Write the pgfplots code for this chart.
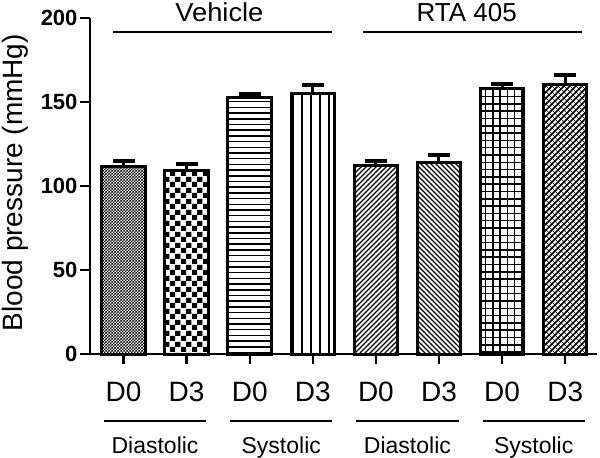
\documentclass[border=0pt]{standalone}
\usepackage{fontspec}
\setmainfont{Liberation Sans}
\usepackage{pgfplots}
\pgfplotsset{compat=1.18}
\usetikzlibrary{patterns}

\pgfdeclarepatternformonly{finechecker}{\pgfqpoint{0pt}{0pt}}{\pgfqpoint{3.4pt}{3.4pt}}{\pgfqpoint{3.4pt}{3.4pt}}{%
\pgfpathrectangle{\pgfqpoint{0pt}{0pt}}{\pgfqpoint{1.7pt}{1.7pt}}%
\pgfpathrectangle{\pgfqpoint{1.7pt}{1.7pt}}{\pgfqpoint{1.7pt}{1.7pt}}%
\pgfusepath{fill}}
\pgfdeclarepatternformonly{bigchecker}{\pgfqpoint{0pt}{0pt}}{\pgfqpoint{10.6pt}{10.6pt}}{\pgfqpoint{10.6pt}{10.6pt}}{%
\pgfpathrectangle{\pgfqpoint{0pt}{0pt}}{\pgfqpoint{5.3pt}{5.3pt}}%
\pgfpathrectangle{\pgfqpoint{5.3pt}{5.3pt}}{\pgfqpoint{5.3pt}{5.3pt}}%
\pgfusepath{fill}}
\pgfdeclarepatternformonly{hlines}{\pgfqpoint{-1pt}{-1pt}}{\pgfqpoint{6.7pt}{6.7pt}}{\pgfqpoint{5.7pt}{5.7pt}}{%
\pgfsetlinewidth{1.5pt}\pgfpathmoveto{\pgfqpoint{-1pt}{2.85pt}}\pgfpathlineto{\pgfqpoint{6.7pt}{2.85pt}}\pgfusepath{stroke}}
\pgfdeclarepatternformonly{vlines}{\pgfqpoint{-1pt}{-1pt}}{\pgfqpoint{10pt}{10pt}}{\pgfqpoint{9pt}{9pt}}{%
\pgfsetlinewidth{2pt}\pgfpathmoveto{\pgfqpoint{4.5pt}{-1pt}}\pgfpathlineto{\pgfqpoint{4.5pt}{10pt}}\pgfusepath{stroke}}
\pgfdeclarepatternformonly{nelines}{\pgfqpoint{-1pt}{-1pt}}{\pgfqpoint{6pt}{6pt}}{\pgfqpoint{5pt}{5pt}}{%
\pgfsetlinewidth{1.1pt}\pgfpathmoveto{\pgfqpoint{0pt}{0pt}}\pgfpathlineto{\pgfqpoint{5.1pt}{5.1pt}}\pgfusepath{stroke}}
\pgfdeclarepatternformonly{nwlines}{\pgfqpoint{-1pt}{-1pt}}{\pgfqpoint{6pt}{6pt}}{\pgfqpoint{5pt}{5pt}}{%
\pgfsetlinewidth{1.1pt}\pgfpathmoveto{\pgfqpoint{0pt}{5pt}}\pgfpathlineto{\pgfqpoint{5.1pt}{-0.1pt}}\pgfusepath{stroke}}
\pgfdeclarepatternformonly{biggrid}{\pgfqpoint{-1pt}{-1pt}}{\pgfqpoint{8.3pt}{8.3pt}}{\pgfqpoint{7.3pt}{7.3pt}}{%
\pgfsetlinewidth{1.5pt}\pgfpathmoveto{\pgfqpoint{3.65pt}{-1pt}}\pgfpathlineto{\pgfqpoint{3.65pt}{8.3pt}}%
\pgfpathmoveto{\pgfqpoint{-1pt}{3.65pt}}\pgfpathlineto{\pgfqpoint{8.3pt}{3.65pt}}\pgfusepath{stroke}}
\pgfdeclarepatternformonly{mixhatch}{\pgfqpoint{-1pt}{-1pt}}{\pgfqpoint{7pt}{7pt}}{\pgfqpoint{6pt}{6pt}}{%
\pgfsetlinewidth{1.6pt}\pgfpathmoveto{\pgfqpoint{0pt}{0pt}}\pgfpathlineto{\pgfqpoint{6.1pt}{6.1pt}}\pgfusepath{stroke}%
\pgfsetlinewidth{0.5pt}\pgfpathmoveto{\pgfqpoint{0pt}{6pt}}\pgfpathlineto{\pgfqpoint{6.1pt}{-0.1pt}}\pgfusepath{stroke}}

\begin{document}
\begin{tikzpicture}
\useasboundingbox (-90pt,-104pt) rectangle (510pt,354pt);
\begin{axis}[
  scale only axis,
  width=507pt, height=336pt,
  xmin=-0.531, xmax=7.504,
  ymin=0, ymax=200,
  axis lines*=left,
  axis line style={line width=2.8pt},
  ybar, bar width=0.69, bar shift=0pt,
  xtick={0,...,7},
  xticklabels={D0,D3,D0,D3,D0,D3,D0,D3},
  ytick={0,50,100,150,200},
  tick align=outside,
  major tick length=10pt,
  tick style={line width=2.4pt, black},
  /pgf/number format/assume math mode=true,
  yticklabel style={font=\fontsize{22}{22}\selectfont\bfseries, xshift=1pt},
  xticklabel style={font=\fontsize{28}{28}\selectfont, yshift=-14pt},
  ylabel={Blood pressure (mmHg)},
  ylabel style={font=\fontsize{28}{28}\selectfont, at={(axis description cs:-0.148,0.51)}, anchor=center},
  clip=false,
  every axis plot/.append style={draw=black, line width=3pt,
    error bars/y dir=plus, error bars/y explicit,
    error bars/error bar style={line width=3pt, black},
    error bars/error mark=|,
    error bars/error mark options={mark size=11pt, line width=4pt, black}},
]
\addplot[pattern=finechecker] coordinates {(0,111.5) +- (0,3.5)};
\addplot[pattern=bigchecker] coordinates {(1,109) +- (0,4)};
\addplot[pattern=hlines] coordinates {(2,152.5) +- (0,2.5)};
\addplot[pattern=vlines] coordinates {(3,155) +- (0,5)};
\addplot[pattern=nelines] coordinates {(4,112.5) +- (0,2.5)};
\addplot[pattern=nwlines] coordinates {(5,114) +- (0,4.5)};
\addplot[pattern=biggrid] coordinates {(6,158) +- (0,3)};
\addplot[pattern=mixhatch] coordinates {(7,160.5) +- (0,5.5)};

\draw[line width=1.8pt] (axis cs:-0.167,191.5) -- (axis cs:3.30,191.5);
\draw[line width=1.8pt] (axis cs:3.80,191.5) -- (axis cs:7.27,191.5);
\node[anchor=base, font=\fontsize{26}{26}\selectfont, xscale=1.05] at (axis cs:1.52,198.2) {Vehicle};
\node[anchor=base, font=\fontsize{26}{26}\selectfont] at (axis cs:5.44,198.2) {RTA 405};

\draw[line width=2pt] (axis cs:-0.31,-39.9) -- (axis cs:1.31,-39.9);
\draw[line width=2pt] (axis cs:1.69,-39.9) -- (axis cs:3.31,-39.9);
\draw[line width=2pt] (axis cs:3.69,-39.9) -- (axis cs:5.31,-39.9);
\draw[line width=2pt] (axis cs:5.69,-39.9) -- (axis cs:7.31,-39.9);
\node[anchor=base, font=\fontsize{23}{23}\selectfont] at (axis cs:0.5,-59.1) {Diastolic};
\node[anchor=base, font=\fontsize{23}{23}\selectfont] at (axis cs:2.5,-59.1) {Systolic};
\node[anchor=base, font=\fontsize{23}{23}\selectfont] at (axis cs:4.5,-59.1) {Diastolic};
\node[anchor=base, font=\fontsize{23}{23}\selectfont] at (axis cs:6.5,-59.1) {Systolic};
\end{axis}
\end{tikzpicture}
\end{document}
